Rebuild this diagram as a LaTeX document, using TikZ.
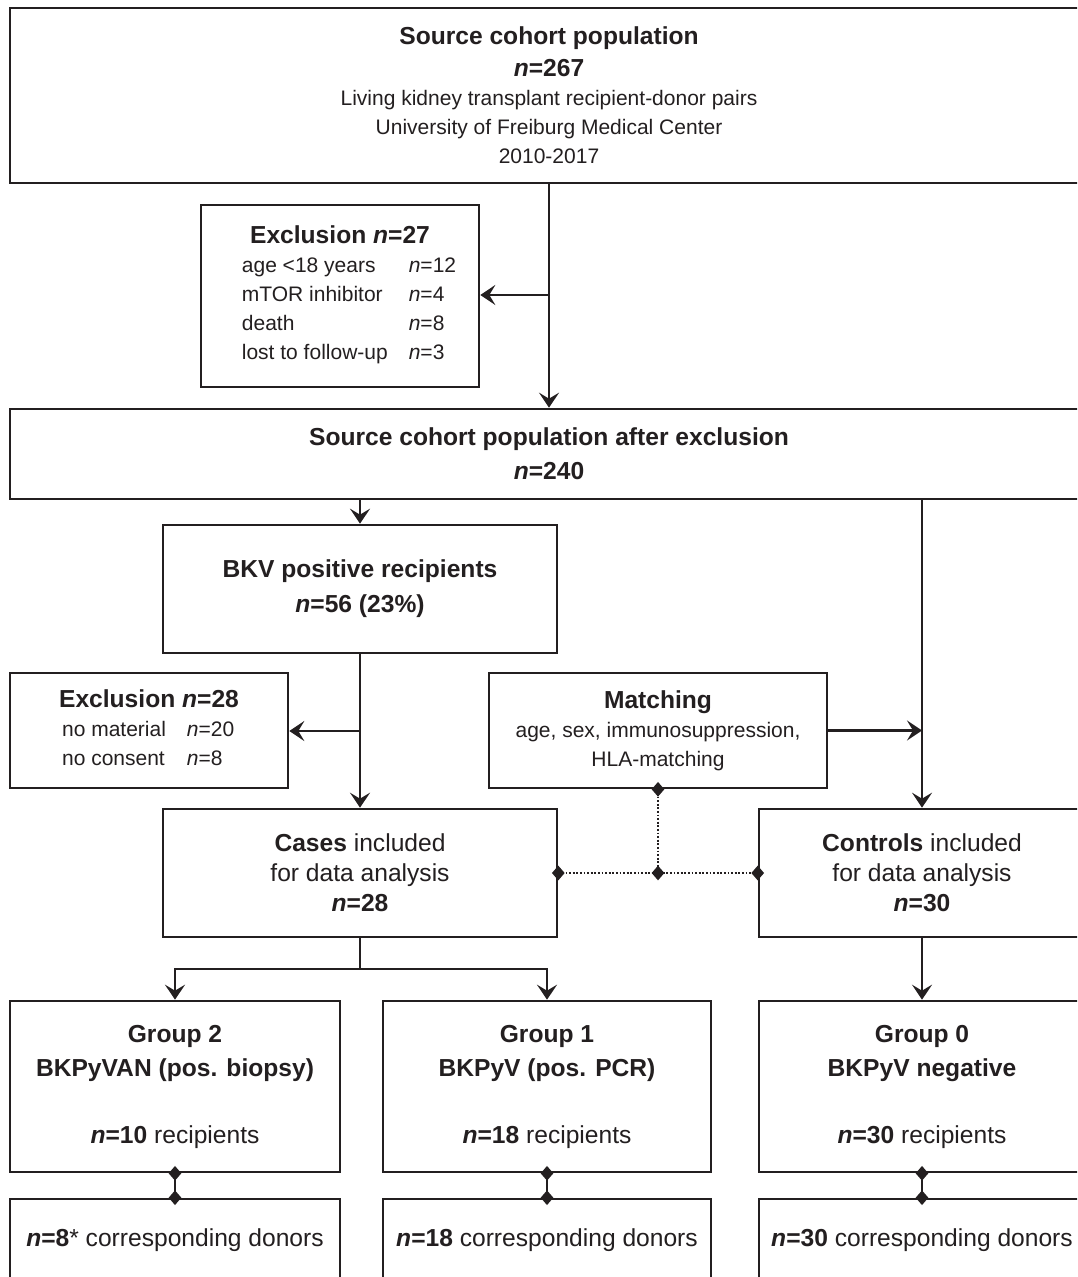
\documentclass[tikz,border=0pt]{standalone}
\usepackage{fontspec}
\setmainfont{Liberation Sans}
\usetikzlibrary{arrows.meta,shapes.geometric}
\definecolor{ink}{HTML}{231F20}
\newcommand{\bigf}{\fontsize{12.3pt}{15pt}\selectfont}
\newcommand{\smf}{\fontsize{10.5pt}{14.5pt}\selectfont}
\newcommand{\nvar}{\textit{n}}
\begin{document}
\begin{tikzpicture}[x=0.5pt,y=-0.5pt,
  box/.style={draw=ink, line width=1.3pt, fill=white, inner sep=0pt, align=center, text=ink},
  conn/.style={draw=ink, line width=1.15pt},
  arr/.style={conn, -{Stealth[length=7.5pt,width=10pt,inset=3pt]}},
  dotl/.style={draw=ink, line width=1pt, dash pattern=on 0.9pt off 0.9pt},
  dia/.style={diamond, fill=ink, inner sep=0pt, minimum width=6.5pt, minimum height=7.5pt}]
\useasboundingbox (0,0) rectangle (1077,1277);
\clip (0,0) rectangle (1077,1277);

% boxes
\node[box, font=\smf, minimum width=539pt, minimum height=87.5pt] (src) at (549,95.5)
  {{\bigf\bfseries Source cohort population}\\[1.5pt]
   {\bigf\bfseries \nvar=267}\\
   Living kidney transplant recipient-donor pairs\\
   University of Freiburg Medical Center\\
   2010-2017};

\node[box, font=\smf, minimum width=139pt, minimum height=91pt] (ex1) at (340,296)
  {\begin{tabular}{@{\hspace{9pt}}l@{\hspace{10.5pt}}l@{}}
   \multicolumn{2}{@{}c@{}}{\bigf\bfseries Exclusion \nvar=27}\\
   age <18 years & \nvar=12\\
   mTOR inhibitor & \nvar=4\\
   death & \nvar=8\\
   lost to follow-up & \nvar=3
   \end{tabular}};

\node[box, font=\bigf, minimum width=539pt, minimum height=45pt] (after) at (549,454)
  {\bfseries Source cohort population after exclusion\\[2pt]
   {\bfseries \nvar=240}};

\node[box, font=\bigf, minimum width=197pt, minimum height=64pt] (bkv) at (360,589)
  {\bfseries BKV positive recipients\\[2.5pt]
   {\bfseries \nvar=56 (23\%)}};

\node[box, font=\smf, minimum width=139pt, minimum height=57.5pt] (ex2) at (149,730.5)
  {\begin{tabular}{@{\hspace{1.5pt}}l@{\hspace{10.5pt}}l@{}}
   \multicolumn{2}{@{}c@{}}{\bigf\bfseries Exclusion \nvar=28}\\
   no material & \nvar=20\\
   no consent & \nvar=8
   \end{tabular}};

\node[box, font=\smf, minimum width=169pt, minimum height=57.5pt] (match) at (658,730.5)
  {{\bigf\bfseries Matching}\\
   age, sex, immunosuppression,\\
   HLA-matching};

\node[box, font=\bigf, minimum width=197pt, minimum height=64pt] (cases) at (360,873)
  {\textbf{Cases} included\\
   for data analysis\\
   {\bfseries \nvar=28}};

\node[box, font=\bigf, minimum width=163pt, minimum height=64pt] (ctrl) at (922,873)
  {\textbf{Controls} included\\
   for data analysis\\
   {\bfseries \nvar=30}};

\node[box, font=\fontsize{12.3pt}{17pt}\selectfont, minimum width=165pt, minimum height=85.5pt] (g2) at (175,1086.5)
  {\bfseries Group 2\\
   {\bfseries BKPyVAN (pos. biopsy)}\\[16.5pt]
   \textbf{\nvar=10} recipients};

\node[box, font=\fontsize{12.3pt}{17pt}\selectfont, minimum width=164pt, minimum height=85.5pt] (g1) at (547,1086.5)
  {\bfseries Group 1\\
   {\bfseries BKPyV (pos. PCR)}\\[16.5pt]
   \textbf{\nvar=18} recipients};

\node[box, font=\fontsize{12.3pt}{17pt}\selectfont, minimum width=163pt, minimum height=85.5pt] (g0) at (922,1086.5)
  {\bfseries Group 0\\
   {\bfseries BKPyV negative}\\[16.5pt]
   \textbf{\nvar=30} recipients};

\node[box, font=\bigf, minimum width=165pt, minimum height=41.5pt] (d2) at (175,1240.5)
  {\textbf{\nvar=8}* corresponding donors};
\node[box, font=\bigf, minimum width=164pt, minimum height=41.5pt] (d1) at (547,1240.5)
  {\textbf{\nvar=18} corresponding donors};
\node[box, font=\bigf, minimum width=163pt, minimum height=41.5pt] (d0) at (922,1240.5)
  {\textbf{\nvar=30} corresponding donors};

% connectors
\coordinate (b1) at (549,295);
\draw[arr] (src.south) -- (after.north);
\draw[arr] (b1) -- (b1 -| ex1.east);
\draw[arr] (bkv.north |- after.south) -- (bkv.north);
\draw[arr] (ctrl.north |- after.south) -- (ctrl.north);
\draw[arr] (bkv.south) -- (cases.north);
\coordinate (b2) at (360,731);
\draw[arr] (b2) -- (b2 -| ex2.east);
\draw[arr] (match.east) -- (match.east -| ctrl.north);

\coordinate (b3) at (360,969);
\draw[conn] (cases.south) -- (b3);
\draw[arr] (b3) -| (g2.north);
\draw[arr] (b3) -| (g1.north);
\draw[arr] (ctrl.south) -- (g0.north);

% matching dotted links
\coordinate (mid) at (match.south |- cases.east);
\draw[dotl] (match.south) -- (mid);
\draw[dotl] (cases.east) -- (ctrl.west);
\node[dia] (m1) at (match.south) {};
\node[dia] (m2) at (mid) {};
\node[dia] (m3) at (cases.east) {};
\node[dia] (m4) at (ctrl.west) {};

% recipient-donor links
\draw[conn] (g2.south) -- (d2.north);
\draw[conn] (g1.south) -- (d1.north);
\draw[conn] (g0.south) -- (d0.north);
\node[dia] (p2a) at (g2.south) {};
\node[dia] (p2b) at (d2.north) {};
\node[dia] (p1a) at (g1.south) {};
\node[dia] (p1b) at (d1.north) {};
\node[dia] (p0a) at (g0.south) {};
\node[dia] (p0b) at (d0.north) {};
\end{tikzpicture}
\end{document}
